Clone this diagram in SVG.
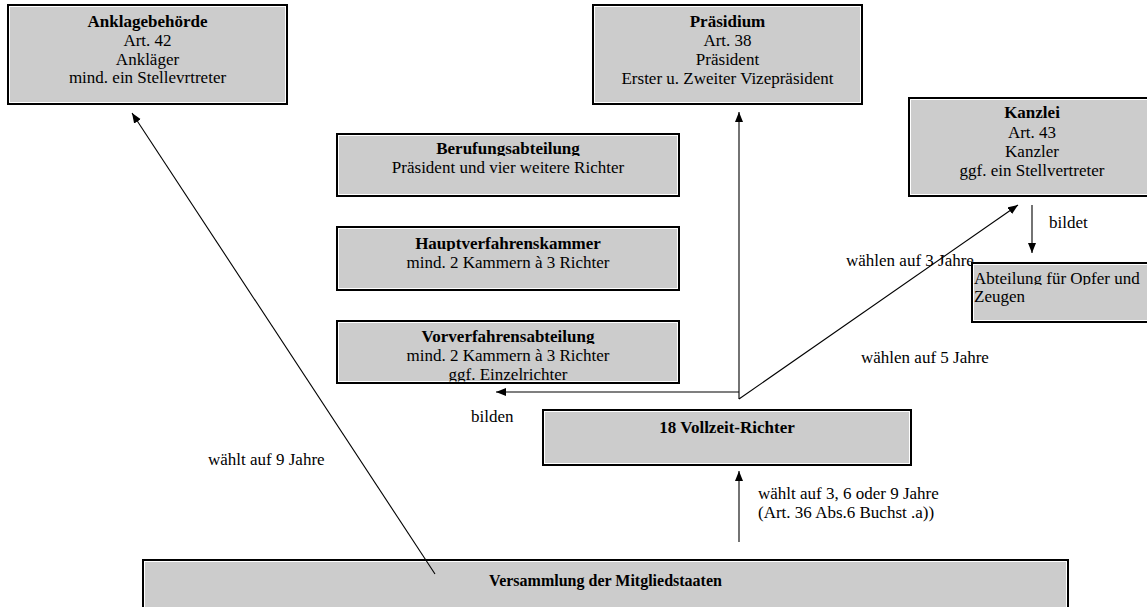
<svg xmlns="http://www.w3.org/2000/svg" width="1147" height="607" viewBox="0 0 1147 607">
<style>
.bo{fill:#cccccc;stroke:#000;stroke-width:2}
.bi{fill:none;stroke:#fff;stroke-width:1}
text{font-family:"Liberation Serif","Times New Roman",serif;font-size:17px;fill:#000}
.c{text-anchor:middle}
.b{font-weight:bold}
.ln{stroke:#000;stroke-width:1.1;fill:none}
.ar{marker-end:url(#ah)}
</style>
<defs>
<marker id="ah" markerUnits="userSpaceOnUse" markerWidth="11" markerHeight="9" refX="10" refY="4" orient="auto">
<path d="M0,0 L10,4 L0,8 z" fill="#000"/>
</marker>
<clipPath id="cB"><rect x="337" y="134" width="342" height="22"/></clipPath>
<clipPath id="cH"><rect x="337" y="227" width="342" height="24"/></clipPath>
<clipPath id="cV"><rect x="337" y="321" width="342" height="23"/></clipPath>
<clipPath id="cV3"><rect x="337" y="321" width="342" height="60.5"/></clipPath>
<clipPath id="cA"><rect x="972" y="263" width="200" height="22"/></clipPath>
</defs>

<g id="anklagebehoerde">
<rect class="bo" x="8" y="5" width="279" height="99"/>
<rect class="bi" x="9.5" y="6.5" width="276" height="96"/>
<text class="c b" x="147.5" y="27">Anklagebehörde</text>
<text class="c" x="147.5" y="46">Art. 42</text>
<text class="c" x="147.5" y="64.5">Ankläger</text>
<text class="c" x="147.5" y="83">mind. ein Stellevrtreter</text>
</g>

<g id="praesidium">
<rect class="bo" x="593" y="5" width="269" height="99"/>
<rect class="bi" x="594.5" y="6.5" width="266" height="96"/>
<text class="c b" x="727.5" y="27">Präsidium</text>
<text class="c" x="727.5" y="46">Art. 38</text>
<text class="c" x="727.5" y="65">Präsident</text>
<text class="c" x="727.5" y="84">Erster u. Zweiter Vizepräsident</text>
</g>

<g id="berufungsabteilung">
<rect class="bo" x="337" y="134" width="342" height="62"/>
<rect class="bi" x="338.5" y="135.5" width="339" height="59"/>
<text class="c b" x="508" y="154" clip-path="url(#cB)">Berufungsabteilung</text>
<text class="c" x="508" y="173">Präsident und vier weitere Richter</text>
</g>

<g id="hauptverfahrenskammer">
<rect class="bo" x="337" y="227" width="342" height="63"/>
<rect class="bi" x="338.5" y="228.5" width="339" height="60"/>
<text class="c b" x="508" y="249" clip-path="url(#cH)">Hauptverfahrenskammer</text>
<text class="c" x="508" y="268">mind. 2 Kammern à 3 Richter</text>
</g>

<g id="vorverfahrensabteilung">
<rect class="bo" x="337" y="321" width="342" height="62"/>
<rect class="bi" x="338.5" y="322.5" width="339" height="59"/>
<text class="c b" x="508" y="342" clip-path="url(#cV)">Vorverfahrensabteilung</text>
<text class="c" x="508" y="361">mind. 2 Kammern à 3 Richter</text>
<text class="c" x="508" y="380" clip-path="url(#cV3)">ggf. Einzelrichter</text>
</g>

<g id="kanzlei">
<rect class="bo" x="909" y="98" width="250" height="98"/>
<rect class="bi" x="910.5" y="99.5" width="247" height="95"/>
<text class="c b" x="1032" y="118">Kanzlei</text>
<text class="c" x="1032" y="138">Art. 43</text>
<text class="c" x="1032" y="157">Kanzler</text>
<text class="c" x="1032" y="176">ggf. ein Stellvertreter</text>
</g>

<g id="abteilung-opfer-zeugen">
<rect class="bo" x="972" y="263" width="190" height="59"/>
<rect class="bi" x="973.5" y="264.5" width="187" height="56"/>
<text x="974" y="284" clip-path="url(#cA)">Abteilung für Opfer und</text>
<text x="974" y="302">Zeugen</text>
</g>

<g id="vollzeit-richter">
<rect class="bo" x="543" y="410" width="368" height="55"/>
<rect class="bi" x="544.5" y="411.5" width="365" height="52"/>
<text class="c b" x="727" y="433">18 Vollzeit-Richter</text>
</g>

<g id="versammlung">
<rect class="bo" x="143" y="560" width="925" height="52"/>
<rect class="bi" x="144.5" y="561.5" width="922" height="49"/>
<text class="c b" x="605.5" y="586" style="font-size:16px">Versammlung der Mitgliedstaaten</text>
</g>

<g id="connectors">
<line class="ln ar" x1="435" y1="574" x2="132" y2="113"/>
<line class="ln ar" x1="739" y1="399" x2="739" y2="112"/>
<line class="ln ar" x1="739" y1="392" x2="496" y2="392"/>
<line class="ln ar" x1="739" y1="399" x2="1018" y2="205"/>
<line class="ln ar" x1="1032" y1="205" x2="1032" y2="253"/>
<line class="ln ar" x1="739" y1="542" x2="739" y2="471"/>
</g>

<g id="labels">
<text x="208" y="465">wählt auf 9 Jahre</text>
<text x="471" y="422">bilden</text>
<text x="846" y="266">wählen auf 3 Jahre</text>
<text x="861" y="363">wählen auf 5 Jahre</text>
<text x="1049" y="228">bildet</text>
<text x="758" y="499">wählt auf 3, 6 oder 9 Jahre</text>
<text x="758" y="518">(Art. 36 Abs.6 Buchst .a))</text>
</g>
</svg>
